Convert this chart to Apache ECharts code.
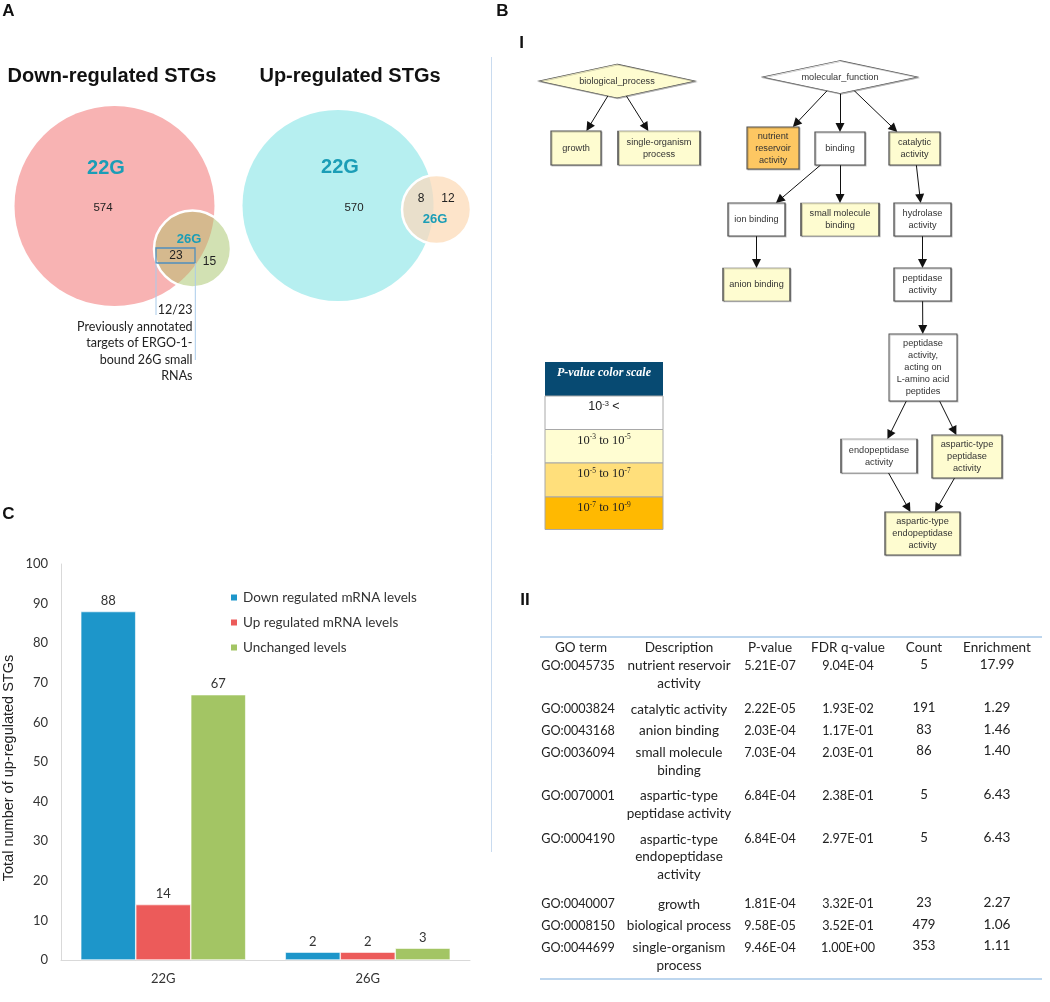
<!DOCTYPE html>
<html>
<head>
<meta charset="utf-8">
<script src="https://cdn.jsdelivr.net/npm/echarts@6.0.0/dist/echarts.min.js"></script>
<style>
html,body{margin:0;padding:0;background:#ffffff;}
#chart{width:1050px;height:1002px;}
</style>
</head>
<body>
<div id="chart"></div>
<script>
// ===== Panel C: bar chart data =====
const barCategories = ['22G', '26G'];
const barSeriesNames = ['Down regulated mRNA levels', 'Up regulated mRNA levels', 'Unchanged levels'];
const downRegulatedCounts = [88, 2];
const upRegulatedCounts = [14, 2];
const unchangedCounts = [67, 3];
const yAxisTitle = 'Total number of up-regulated STGs';

// ===== Panel A: Venn data =====
const vennTitles = ['Down-regulated STGs', 'Up-regulated STGs'];
const vennSetNames = ['22G', '26G'];
const downVennCounts = [574, 23, 15];   // 22G only, shared, 26G only
const upVennCounts = [570, 8, 12];
const annotatedFraction = '12/23';
const annotationLines = ['Previously annotated', 'targets of ERGO-1-', 'bound 26G small', 'RNAs'];

// ===== Panel B-I: GO graph =====
const goNodeNames = ['biological_process', 'molecular_function', 'growth', 'single-organism process',
  'nutrient reservoir activity', 'binding', 'catalytic activity', 'ion binding', 'small molecule binding',
  'hydrolase activity', 'anion binding', 'peptidase activity',
  'peptidase activity, acting on L-amino acid peptides', 'endopeptidase activity',
  'aspartic-type peptidase activity', 'aspartic-type endopeptidase activity'];
const goNodeLabels = ['biological_process', 'molecular_function', 'growth', 'single-organism\nprocess',
  'nutrient\nreservoir\nactivity', 'binding', 'catalytic\nactivity', 'ion binding', 'small molecule\nbinding',
  'hydrolase\nactivity', 'anion binding', 'peptidase\nactivity',
  'peptidase\nactivity,\nacting on\nL-amino acid\npeptides', 'endopeptidase\nactivity',
  'aspartic-type\npeptidase\nactivity', 'aspartic-type\nendopeptidase\nactivity'];
const goNodePClass = [1, 0, 1, 1, 2, 0, 1, 0, 1, 0, 1, 0, 0, 0, 1, 1];
const goEdges = [[0, 2], [0, 3], [1, 4], [1, 5], [1, 6], [5, 7], [5, 8], [7, 10], [6, 9], [9, 11],
  [11, 12], [12, 13], [12, 14], [13, 15], [14, 15]];
const pScaleTitle = 'P-value color scale';
const pScaleBins = [['-3', null], ['-3', '-5'], ['-5', '-7'], ['-7', '-9']];

// ===== Panel B-II: GO table =====
const tableHeaders = ['GO term', 'Description', 'P-value', 'FDR q-value', 'Count', 'Enrichment'];
const goTermIds = ['GO:0045735', 'GO:0003824', 'GO:0043168', 'GO:0036094', 'GO:0070001', 'GO:0004190',
  'GO:0040007', 'GO:0008150', 'GO:0044699'];
const goTermDescriptions = ['nutrient reservoir\nactivity', 'catalytic activity', 'anion binding',
  'small molecule\nbinding', 'aspartic-type\npeptidase activity', 'aspartic-type\nendopeptidase\nactivity',
  'growth', 'biological process', 'single-organism\nprocess'];
const goPValues = ['5.21E-07', '2.22E-05', '2.03E-04', '7.03E-04', '6.84E-04', '6.84E-04', '1.81E-04', '9.58E-05', '9.46E-04'];
const goFdrValues = ['9.04E-04', '1.93E-02', '1.17E-01', '2.03E-01', '2.38E-01', '2.97E-01', '3.32E-01', '3.52E-01', '1.00E+00'];
const goCounts = [5, 191, 83, 86, 5, 5, 23, 479, 353];
const goEnrichments = ['17.99', '1.29', '1.46', '1.40', '6.43', '6.43', '2.27', '1.06', '1.11'];

// ================= rendering =================
const SANS = '"Liberation Sans", Arial, sans-serif';
const CAL = 'Lato, "Liberation Sans", sans-serif';
const SERIF = '"Liberation Serif", "DejaVu Serif", serif';
const TEAL = '#1b9db6';

const graphic = [];
function txt(x, y, text, o) {
  graphic.push({
    type: 'text', x: x, y: y, silent: true,
    style: Object.assign({ text: text, fill: '#222', fontSize: 12, fontFamily: SANS,
      align: 'center', verticalAlign: 'middle' }, o || {})
  });
}

// panel letters
txt(8.5, 11, 'A', { fontSize: 17, fontWeight: 'bold', fill: '#111' });
txt(502.5, 11, 'B', { fontSize: 17, fontWeight: 'bold', fill: '#111' });
txt(521.5, 43, 'I', { fontSize: 17, fontWeight: 'bold', fill: '#111' });
txt(525, 600, 'II', { fontSize: 17, fontWeight: 'bold', fill: '#111' });
txt(8.5, 514, 'C', { fontSize: 17, fontWeight: 'bold', fill: '#111' });

// separator
graphic.push({ type: 'line', silent: true, shape: { x1: 491.5, y1: 57, x2: 491.5, y2: 852 },
  style: { stroke: '#c9dbef', lineWidth: 1 } });

// ----- Venn diagrams -----
function venn(c1, r1, c2, r2, col1, col2, colLens) {
  graphic.push({ type: 'circle', silent: true, shape: { cx: c1[0], cy: c1[1], r: r1 }, style: { fill: col1 } });
  graphic.push({ type: 'circle', silent: true, shape: { cx: c2[0], cy: c2[1], r: r2 }, style: { fill: col2 } });
  const dx = c2[0] - c1[0], dy = c2[1] - c1[1], d = Math.hypot(dx, dy);
  const a = (r1 * r1 - r2 * r2 + d * d) / (2 * d);
  const al = Math.acos(a / r1), be = Math.acos((d - a) / r2);
  const p12 = Math.atan2(dy, dx), p21 = Math.atan2(-dy, -dx);
  const pts = [], N = 80;
  for (let i = 0; i <= N; i++) { const t = p12 - al + 2 * al * i / N; pts.push([c1[0] + r1 * Math.cos(t), c1[1] + r1 * Math.sin(t)]); }
  for (let i = 0; i <= N; i++) { const t = p21 - be + 2 * be * i / N; pts.push([c2[0] + r2 * Math.cos(t), c2[1] + r2 * Math.sin(t)]); }
  graphic.push({ type: 'polygon', silent: true, shape: { points: pts }, style: { fill: colLens } });
  graphic.push({ type: 'circle', silent: true, shape: { cx: c2[0], cy: c2[1], r: r2 }, style: { fill: null, stroke: '#ffffff', lineWidth: 2.5 } });
}
txt(112, 76, vennTitles[0], { fontSize: 20, fontWeight: 'bold', fill: '#111' });
txt(350, 76, vennTitles[1], { fontSize: 20, fontWeight: 'bold', fill: '#111' });

venn([114.5, 206], 100, [192.5, 249], 38.5, '#f8b3b3', '#d2e1b3', '#d5b98e');
txt(106, 168, vennSetNames[0], { fontSize: 20, fontWeight: 'bold', fill: TEAL });
txt(103, 208, String(downVennCounts[0]), { fontSize: 11.5 });
txt(189, 239, vennSetNames[1], { fontSize: 13, fontWeight: 'bold', fill: TEAL });
txt(176, 256, String(downVennCounts[1]), { fontSize: 12 });
txt(209.5, 262, String(downVennCounts[2]), { fontSize: 12 });
graphic.push({ type: 'rect', silent: true, shape: { x: 156, y: 248, width: 39, height: 15 },
  style: { fill: null, stroke: '#4f8fbf', lineWidth: 1.3 } });
graphic.push({ type: 'line', silent: true, shape: { x1: 156, y1: 263, x2: 156, y2: 315 }, style: { stroke: '#a9cbea', lineWidth: 1 } });
graphic.push({ type: 'line', silent: true, shape: { x1: 195.3, y1: 263, x2: 195.3, y2: 360 }, style: { stroke: '#a9cbea', lineWidth: 1 } });
txt(192.5, 310, annotatedFraction, { fontSize: 12.5, fontFamily: CAL, align: 'right' });
annotationLines.forEach(function (s, i) {
  txt(192.5, 326.5 + i * 16.6, s, { fontSize: 12.5, fontFamily: CAL, align: 'right' });
});

venn([338, 205.5], 95.5, [436.5, 209.5], 34.5, '#b6eff0', '#fde4ca', '#e9dfcb');
txt(340, 167, vennSetNames[0], { fontSize: 20, fontWeight: 'bold', fill: TEAL });
txt(354, 208, String(upVennCounts[0]), { fontSize: 11.5 });
txt(421, 199, String(upVennCounts[1]), { fontSize: 12 });
txt(448, 199, String(upVennCounts[2]), { fontSize: 12 });
txt(435, 219, vennSetNames[1], { fontSize: 13, fontWeight: 'bold', fill: TEAL });

// ----- P-value colour scale -----
const pScaleColors = ['#ffffff', '#fffdd2', '#ffdf7b', '#ffb901'];
graphic.push({ type: 'rect', silent: true, shape: { x: 545, y: 362, width: 118, height: 34 }, style: { fill: '#074a72' } });
txt(604, 373, pScaleTitle, { fontSize: 12, fontFamily: SERIF, fontWeight: 'bold', fontStyle: 'italic', fill: '#ffffff' });
const rowTops = [396, 429.5, 463, 497, 529.5];
pScaleBins.forEach(function (b, i) {
  graphic.push({ type: 'rect', silent: true,
    shape: { x: 545, y: rowTops[i], width: 118, height: rowTops[i + 1] - rowTops[i] },
    style: { fill: pScaleColors[i], stroke: '#a8a8a8', lineWidth: 1 } });
  const fam = i === 0 ? SANS : SERIF;
  const t = b[1] === null ? '{b|10}{s|' + b[0] + '}{b| <}' : '{b|10}{s|' + b[0] + '}{b| to 10}{s|' + b[1] + '}';
  graphic.push({ type: 'text', silent: true, x: 604, y: rowTops[i] + 11, style: {
    text: t, align: 'center', verticalAlign: 'middle',
    rich: { b: { fontSize: 12.5, fontFamily: fam, fill: '#222', lineHeight: 14 },
            s: { fontSize: 7.5, fontFamily: fam, fill: '#222', lineHeight: 14, verticalAlign: 'top', padding: [0, 0, 6, 0] } } } });
});

// ----- GO table -----
graphic.push({ type: 'line', silent: true, shape: { x1: 540, y1: 637, x2: 1042, y2: 637 }, style: { stroke: '#a7c8e8', lineWidth: 1.5 } });
graphic.push({ type: 'line', silent: true, shape: { x1: 540, y1: 979, x2: 1042, y2: 979 }, style: { stroke: '#a7c8e8', lineWidth: 1.5 } });
const colX = [578, 679, 770, 848, 924, 997];
tableHeaders.forEach(function (h, i) { txt(i === 0 ? 581 : colX[i], 647.5, h, { fontSize: 13.5, fontFamily: CAL }); });
let lineCursor = 0;
goTermIds.forEach(function (id, i) {
  const y0 = 666 + lineCursor * 21.65;
  const dl = goTermDescriptions[i].split('\n');
  txt(colX[0], y0, id, { fontSize: 12.6, fontFamily: CAL });
  dl.forEach(function (s, k) { txt(colX[1], y0 + k * 17.7, s, { fontSize: 13.5, fontFamily: CAL }); });
  txt(colX[2], y0, goPValues[i], { fontSize: 12.6, fontFamily: CAL });
  txt(colX[3], y0, goFdrValues[i], { fontSize: 12.6, fontFamily: CAL });
  txt(colX[4], y0 - 1.5, String(goCounts[i]), { fontSize: 13.2, fontFamily: CAL });
  txt(colX[5], y0 - 1.5, goEnrichments[i], { fontSize: 13.6, fontFamily: CAL });
  lineCursor += dl.length;
});

// ----- GO graph layout (centre x, centre y, width, height, shape) -----
const goLayout = {
  'biological_process': [617, 81, 157, 34, 'diamond'],
  'molecular_function': [840, 77, 156, 33, 'diamond'],
  'growth': [576, 148, 50, 34],
  'single-organism process': [659, 148, 82, 34],
  'nutrient reservoir activity': [773, 148, 52, 42],
  'binding': [840, 148.5, 50, 33],
  'catalytic activity': [914.5, 148.5, 51, 33],
  'ion binding': [756.5, 219.5, 57, 33],
  'small molecule binding': [840, 219.5, 78, 33],
  'hydrolase activity': [922.5, 219.5, 57, 33],
  'anion binding': [756.5, 284.5, 67, 33],
  'peptidase activity': [922.5, 284.5, 57, 33],
  'peptidase activity, acting on L-amino acid peptides': [923, 367.5, 68, 67],
  'endopeptidase activity': [879, 456, 76, 34],
  'aspartic-type peptidase activity': [967, 456.5, 70, 43],
  'aspartic-type endopeptidase activity': [922.5, 533.5, 75, 43]
};
const nodeFill = ['#ffffff', '#fefcd0', '#fdc762'];
const goData = goNodeNames.map(function (n, i) {
  const L = goLayout[n];
  return {
    name: n, value: [L[0], L[1]], symbol: L[4] || 'rect', symbolSize: [L[2], L[3]],
    itemStyle: { color: nodeFill[goNodePClass[i]], borderColor: '#505050', borderWidth: 1,
      shadowColor: 'rgba(0,0,0,0.22)', shadowOffsetX: 1, shadowOffsetY: 1, shadowBlur: 0.5 },
    label: { show: true, position: 'inside', formatter: goNodeLabels[i], fontSize: 9.2,
      fontFamily: SANS, color: '#333', lineHeight: 12 }
  };
});
function boundaryT(L, dx, dy) {
  const hw = L[2] / 2, hh = L[3] / 2;
  if (L[4] === 'diamond') return 1 / (Math.abs(dx) / hw + Math.abs(dy) / hh);
  return Math.min(dx ? hw / Math.abs(dx) : Infinity, dy ? hh / Math.abs(dy) : Infinity);
}
const ARROW = 9;
const edgeData = goEdges.map(function (e) {
  const A = goLayout[goNodeNames[e[0]]], B = goLayout[goNodeNames[e[1]]];
  const dx = B[0] - A[0], dy = B[1] - A[1], len = Math.hypot(dx, dy);
  const ta = boundaryT(A, dx, dy), tb = boundaryT(B, -dx, -dy);
  const sx = A[0] + ta * dx, sy = A[1] + ta * dy;
  const ex = B[0] - tb * dx - (ARROW / 2) * dx / len, ey = B[1] - tb * dy - (ARROW / 2) * dy / len;
  return { coords: [[sx, sy], [ex, ey]] };
});

// ----- bar series -----
const barColors = ['#1d96ca', '#ec5b5a', '#a3c564'];
const barValues = [downRegulatedCounts, upRegulatedCounts, unchangedCounts];
const barSeries = barSeriesNames.map(function (name, i) {
  return {
    type: 'bar', name: name, xAxisIndex: 0, yAxisIndex: 0, data: barValues[i],
    barWidth: 55, barGap: '0%', itemStyle: { color: barColors[i], borderColor: '#ffffff', borderWidth: 0.6 },
    label: { show: true, position: 'top', distance: 4, fontSize: 13, fontFamily: CAL, color: '#333' }
  };
});

const option = {
  animation: false,
  backgroundColor: '#ffffff',
  grid: [
    { left: 55, top: 564, width: 415, height: 396 },
    { left: 0, top: 0, width: 1050, height: 1002, show: false }
  ],
  xAxis: [
    { gridIndex: 0, type: 'category', data: barCategories,
      axisLine: { lineStyle: { color: '#d9d9d9', width: 1 } }, axisTick: { show: false },
      axisLabel: { fontSize: 13, fontFamily: CAL, color: '#333', margin: 12 } },
    { gridIndex: 1, type: 'value', min: 0, max: 1050, show: false }
  ],
  yAxis: [
    { gridIndex: 0, type: 'value', min: 0, max: 100, interval: 10,
      name: yAxisTitle, nameLocation: 'middle', nameGap: 45, nameRotate: 90,
      nameTextStyle: { fontSize: 14.5, fontFamily: SANS, color: '#222', padding: [0, 0, 0, -12] },
      axisLine: { show: true, lineStyle: { color: '#d9d9d9', width: 1 } }, axisTick: { show: false },
      splitLine: { show: false },
      axisLabel: { fontSize: 13, fontFamily: CAL, color: '#333', margin: 13 } },
    { gridIndex: 1, type: 'value', min: 0, max: 1002, inverse: true, show: false }
  ],
  legend: {
    orient: 'vertical', left: 224, top: 585, itemWidth: 8, itemHeight: 8, itemGap: 10,
    icon: 'rect', data: barSeriesNames,
    textStyle: { fontSize: 13.5, fontFamily: CAL, color: '#333', lineHeight: 15 }
  },
  graphic: graphic,
  series: barSeries.concat([
    {
      type: 'lines', coordinateSystem: 'cartesian2d', xAxisIndex: 1, yAxisIndex: 1, silent: true,
      symbol: ['none', 'triangle'], symbolSize: ARROW,
      lineStyle: { color: '#111', width: 1, opacity: 1 }, itemStyle: { color: '#111' },
      data: edgeData, z: 3
    },
    {
      type: 'graph', coordinateSystem: 'cartesian2d', xAxisIndex: 1, yAxisIndex: 1, silent: true,
      data: goData, links: [], z: 4
    }
  ])
};

const chart = echarts.init(document.getElementById('chart'));
chart.setOption(option);
</script>
</body>
</html>
